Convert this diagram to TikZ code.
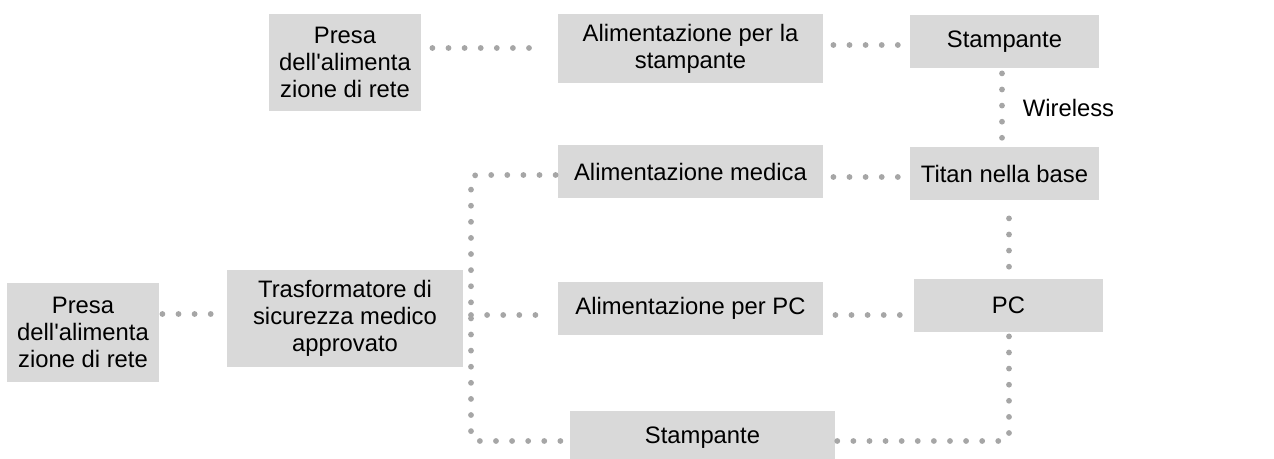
\documentclass[tikz,border=0pt]{standalone}
\usepackage{fontspec}
\setmainfont{Liberation Sans}
\usetikzlibrary{calc}

\definecolor{boxgray}{HTML}{D9D9D9}
\definecolor{dotgray}{HTML}{A6A6A6}

\begin{document}
\begin{tikzpicture}[x = 0.5pt, y = -0.5pt,
  box/.style = {fill = boxgray, inner sep = 0pt, align = center,
    font = \fontsize{11.9}{13.5}\selectfont},
  link/.style = {dotgray, line width = 2.9pt, line cap = round,
    dash pattern = on 0pt off 8.05pt},
  lbl/.style = {inner sep = 0pt, text = black,
    font = \fontsize{11.9}{13.5}\selectfont}]
  \useasboundingbox (0, 0) rectangle (1274, 459);

  \node[box, minimum width = 76pt, minimum height = 48.5pt] (presa1)
    at (345, 62.5) {Presa\\dell\textquotesingle alimenta\\zione di rete};
  \node[box, minimum width = 132.5pt, minimum height = 34.5pt] (alimstamp)
    at (690.5, 48.5) {Alimentazione per la\\stampante};
  \node[box, minimum width = 94.5pt, minimum height = 26.5pt] (stamp1)
    at (1004.5, 41.5) {Stampante};
  \node[box, minimum width = 94.5pt, minimum height = 26.5pt] (titan)
    at (1004.5, 173.5) {Titan nella base};
  \node[box, minimum width = 132.5pt, minimum height = 26.5pt] (alimmed)
    at (690.5, 171.5) {Alimentazione medica};
  \node[box, minimum width = 132.5pt, minimum height = 26.5pt] (alimpc)
    at (690.5, 308.5) {Alimentazione per PC};
  \node[box, minimum width = 94.5pt, minimum height = 26.5pt] (pc)
    at (1008.5, 305.5) {PC};
  \node[box, minimum width = 132.5pt, minimum height = 26.5pt] (stamp2)
    at (702.5, 437.5) {Stampante};
  \node[box, minimum width = 76pt, minimum height = 49.5pt] (presa2)
    at (83, 332.5) {Presa\\dell\textquotesingle alimenta\\zione di rete};
  \node[box, minimum width = 118pt, minimum height = 48.5pt] (trasf)
    at (345, 318.5) {Trasformatore di\\sicurezza medico\\approvato};

  \coordinate (bus) at (471, 315);

  \draw[link, shorten <= 5.5pt, shorten >= 13pt]
    (presa1.east |- 0, 48) -- (alimstamp.west |- 0, 48);
  \draw[link, shorten <= 5pt, shorten >= 5pt]
    (alimstamp.east |- 0, 45) -- (stamp1.west |- 0, 45);
  \draw[link, shorten <= 2.5pt, shorten >= 4pt]
    (stamp1.south -| 1002, 0) -- node[lbl, right = 9pt] (wireless) {Wireless}
    (titan.north -| 1002, 0);
  \draw[link, shorten <= 5pt, shorten >= 5pt]
    (alimmed.east |- 0, 177) -- (titan.west |- 0, 177);
  \draw[link, shorten <= 9pt, shorten >= 5pt]
    (titan.south -| 1009, 0) -- (pc.north -| 1009, 0);
  \draw[link, shorten <= 6pt, shorten >= 5pt]
    (alimpc.east |- 0, 315) -- (pc.west |- 0, 315);
  \draw[link, rounded corners = 3pt, shorten <= 2pt, shorten >= 0.5pt]
    (pc.south -| 1009, 0) |- (stamp2.east |- 0, 441);
  \draw[link, shorten <= 1.5pt]
    (presa2.east |- 0, 314) -- (trasf.west |- 0, 314);
  \draw[link, rounded corners = 3pt, shorten <= 1pt]
    (alimmed.west |- 0, 175) -| (bus) |- (stamp2.west |- 0, 441);
  \draw[link, shorten >= 5.5pt] (bus) -- (alimpc.west |- bus);
\end{tikzpicture}
\end{document}
